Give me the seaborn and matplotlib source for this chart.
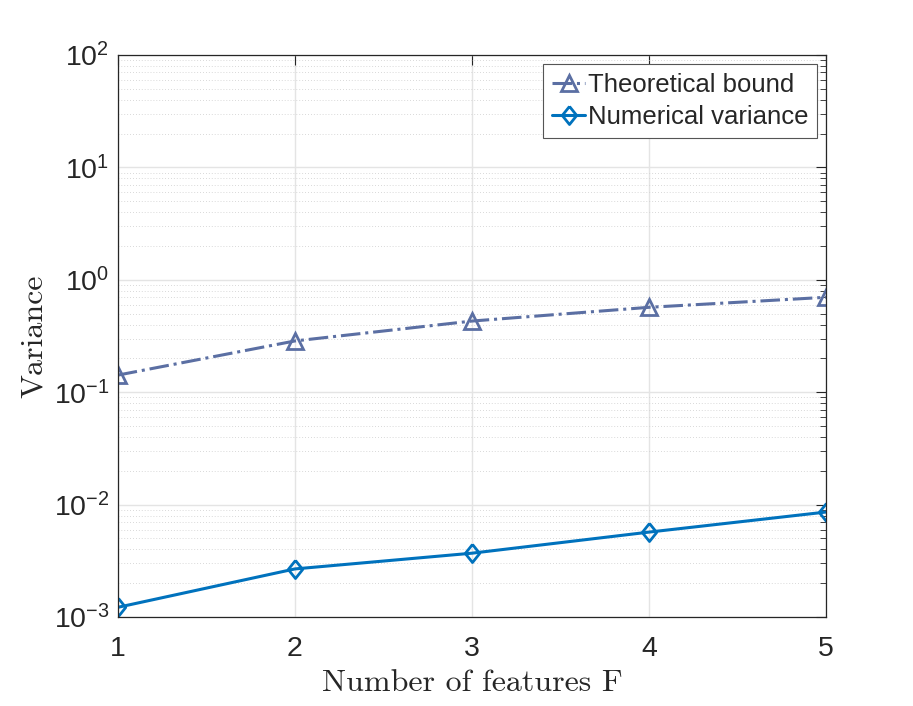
import numpy as np
import pandas as pd
import matplotlib
matplotlib.use("Agg")
import matplotlib.pyplot as plt
import matplotlib.ticker as mticker
import seaborn as sns

# data
features = [1, 2, 3, 4, 5]
theoretical_bound = [0.142, 0.286, 0.43, 0.57, 0.70]
numerical_variance = [0.00122, 0.00268, 0.0037, 0.0057, 0.0086]

df = pd.DataFrame({"F": features, "bound": theoretical_bound, "var": numerical_variance})

sns.set_style("white")
plt.rcParams["font.family"] = ["Liberation Sans", "DejaVu Sans"]
plt.rcParams["mathtext.fontset"] = "custom"
plt.rcParams["mathtext.rm"] = "Liberation Sans"
plt.rcParams["mathtext.it"] = "Liberation Sans:italic"
plt.rcParams["axes.unicode_minus"] = False

# matlab-like wide diamond
diamond = [(0, 1), (0.8, 0), (0, -1), (-0.8, 0), (0, 1)]

fig = plt.figure(figsize=(9.13, 7.06), dpi=100)
ax = fig.add_axes([0.129, 0.126, 0.776, 0.796])

sns.lineplot(data=df, x="F", y="bound", ax=ax, color="#5b6fa3", linestyle="-.",
             linewidth=2.2, marker="^", markersize=11, markerfacecolor="none",
             markeredgecolor="#5b6fa3", markeredgewidth=2.0, label="Theoretical bound")
sns.lineplot(data=df, x="F", y="var", ax=ax, color="#0072BD", linestyle="-",
             linewidth=2.2, marker=diamond, markersize=13, markerfacecolor="none",
             markeredgecolor="#0072BD", markeredgewidth=2.0, label="Numerical variance")

ax.set_yscale("log")
ax.set_ylim(1e-3, 1e2)
ax.set_xlim(1, 5)
ax.set_xticks(features)
ax.yaxis.set_major_locator(mticker.LogLocator(base=10, numticks=10))
ax.yaxis.set_minor_locator(mticker.LogLocator(base=10, subs=np.arange(2, 10), numticks=20))
ax.yaxis.set_major_formatter(mticker.LogFormatterSciNotation())
ax.yaxis.set_minor_formatter(mticker.NullFormatter())

ax.grid(True, which="major", color="#e4e4e4", linewidth=1.0, linestyle="-")
ax.grid(True, which="minor", axis="y", color="#cccccc", linewidth=0.6, linestyle=(0, (1, 2.5)))
ax.set_axisbelow(True)

for s in ax.spines.values():
    s.set_color("#262626")
    s.set_linewidth(0.9)
ax.tick_params(which="both", direction="in", top=True, right=True, colors="#262626",
               labelsize=20.5, labelcolor="#262626")
ax.tick_params(which="major", length=7)
ax.tick_params(which="minor", length=4)
ax.tick_params(axis="x", pad=14)
ax.tick_params(axis="y", pad=6)

ax.set_xlabel("Number of features F", fontfamily="cmr10", fontsize=23, color="#262626",
              labelpad=5)
ax.set_ylabel("Variance", fontfamily="cmr10", fontsize=23, color="#262626", labelpad=4)

leg = ax.legend(loc="upper right", fontsize=18.5, frameon=True, fancybox=False,
                edgecolor="#555555", framealpha=1, handlelength=1.3, handletextpad=0.1,
                borderpad=0.35, labelspacing=0.3, borderaxespad=0.35)
leg.get_frame().set_linewidth(0.8)

fig.savefig("out.png", dpi=100)
